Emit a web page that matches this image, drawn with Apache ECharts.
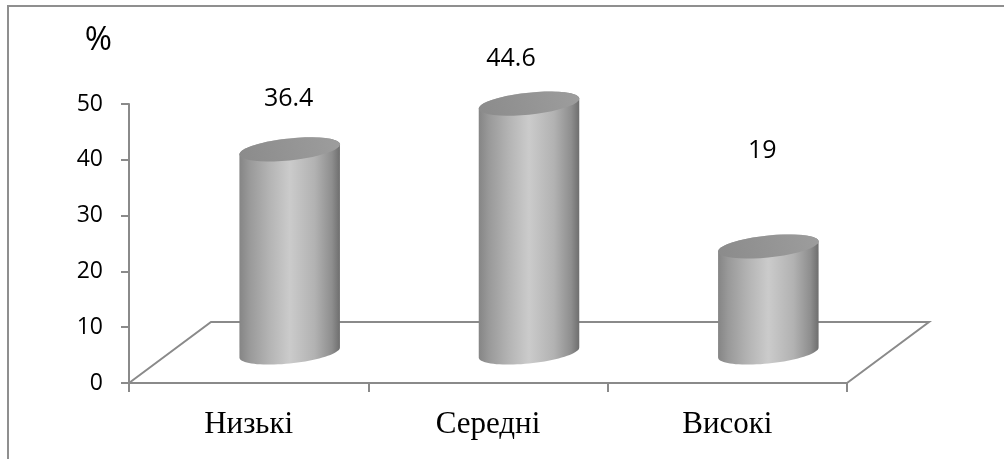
<!DOCTYPE html>
<html>
<head>
<meta charset="utf-8">
<script src="https://cdn.jsdelivr.net/npm/echarts@6/dist/echarts.min.js"></script>
<style>
  html, body { margin: 0; padding: 0; background: #fff; }
  #chart { width: 1004px; height: 459px; }
</style>
</head>
<body>
<div id="chart"></div>
<script>
const categories = ['Низькі', 'Середні', 'Високі'];
const values = [36.4, 44.6, 19];
const valueLabels = ['36.4', '44.6', '19'];
const yTicks = { min: 0, max: 50, interval: 10 };

// zsuv pidpysiv, u vykhidnomu grafiku yikh rozstavleno vruchnu
const labelShift = [[-1, -51], [-18, -45], [-6, -96]];

const AXIS_COLOR = '#8a8a8a';
const DEPTH_X = 82;
const DEPTH_Y = -61;

const chart = echarts.init(document.getElementById('chart'));

// tilted ellipse arc, t in radians
function arc(cx, cy, a, b, from, to) {
  const pts = [];
  const steps = 40;
  for (let i = 0; i <= steps; i++) {
    const t = from + (to - from) * i / steps;
    pts.push([cx + a * Math.cos(t), cy + b * Math.sin(t) - 0.1 * a * Math.cos(t)]);
  }
  return pts;
}

function renderFloor(params, api) {
  const g = params.coordSys;
  const y0 = g.y + g.height;
  return {
    type: 'polyline',
    silent: true,
    shape: {
      points: [
        [g.x, y0],
        [g.x + DEPTH_X, y0 + DEPTH_Y],
        [g.x + g.width + DEPTH_X, y0 + DEPTH_Y],
        [g.x + g.width, y0]
      ]
    },
    style: { fill: 'none', stroke: AXIS_COLOR, lineWidth: 2 }
  };
}

function renderCylinder(params, api) {
  const i = api.value(0);
  const top = api.coord([i, api.value(1)]);
  const base = api.coord([i, 0]);
  const a = api.size([1, 0])[0] * 0.21;
  const b = 11;
  const cx = top[0] + DEPTH_X / 2;
  const topY = top[1] + DEPTH_Y / 2;
  const baseY = base[1] + DEPTH_Y / 2;
  const side = arc(cx, baseY, a, b, Math.PI, 0).concat(arc(cx, topY, a, b, 0, -Math.PI));
  const shift = labelShift[params.dataIndex];
  return {
    type: 'group',
    children: [
      {
        type: 'polygon',
        shape: { points: side },
        style: {
          fill: new echarts.graphic.LinearGradient(0, 0, 1, 0, [
            { offset: 0, color: '#858585' },
            { offset: 0.1, color: '#999999' },
            { offset: 0.3, color: '#b4b4b4' },
            { offset: 0.5, color: '#cbcbcb' },
            { offset: 0.75, color: '#b2b2b2' },
            { offset: 0.92, color: '#8e8e8e' },
            { offset: 1, color: '#6e6e6e' }
          ])
        }
      },
      {
        type: 'polygon',
        shape: { points: arc(cx, topY, a, b, 0, Math.PI * 2) },
        style: {
          fill: new echarts.graphic.LinearGradient(0, 1, 1, 0, [
            { offset: 0, color: '#8b8b8b' },
            { offset: 1, color: '#9d9d9d' }
          ])
        }
      },
      {
        type: 'text',
        style: {
          x: cx + shift[0],
          y: topY + shift[1],
          text: valueLabels[params.dataIndex],
          fill: '#000',
          font: '25px "Open Sans"',
          align: 'center',
          verticalAlign: 'middle'
        }
      }
    ]
  };
}

chart.setOption({
  animation: false,
  grid: { left: 129, right: 157, top: 104, bottom: 76 },
  graphic: [
    {
      type: 'polyline',
      silent: true,
      shape: { points: [[8, 459], [8, 6], [1004, 6]] },
      style: { fill: 'none', stroke: '#8f8f8f', lineWidth: 2 }
    }
  ],
  xAxis: {
    type: 'category',
    data: categories,
    axisLine: { lineStyle: { color: AXIS_COLOR, width: 2 } },
    axisTick: { show: true, length: 9, lineStyle: { color: AXIS_COLOR, width: 2 } },
    axisLabel: { color: '#000', fontFamily: 'Liberation Serif', fontSize: 31, margin: 26 }
  },
  yAxis: {
    type: 'value',
    min: yTicks.min,
    max: yTicks.max,
    interval: yTicks.interval,
    name: '%',
    nameLocation: 'end',
    nameGap: 47,
    nameTextStyle: { color: '#000', fontFamily: 'Open Sans', fontSize: 33, align: 'right', padding: [0, 17, 0, 0] },
    splitLine: { show: false },
    axisLine: { show: true, lineStyle: { color: AXIS_COLOR, width: 2 } },
    axisTick: { show: true, length: 8, lineStyle: { color: AXIS_COLOR, width: 2 } },
    axisLabel: { color: '#000', fontFamily: 'Open Sans', fontSize: 23, margin: 26 }
  },
  series: [
    {
      type: 'custom',
      coordinateSystem: 'cartesian2d',
      renderItem: renderFloor,
      silent: true,
      clip: false,
      z: 1,
      data: [[0, 0]]
    },
    {
      type: 'custom',
      coordinateSystem: 'cartesian2d',
      renderItem: renderCylinder,
      clip: false,
      z: 2,
      encode: { x: 0, y: 1 },
      data: values.map((v, i) => [i, v])
    }
  ]
});
</script>
</body>
</html>
